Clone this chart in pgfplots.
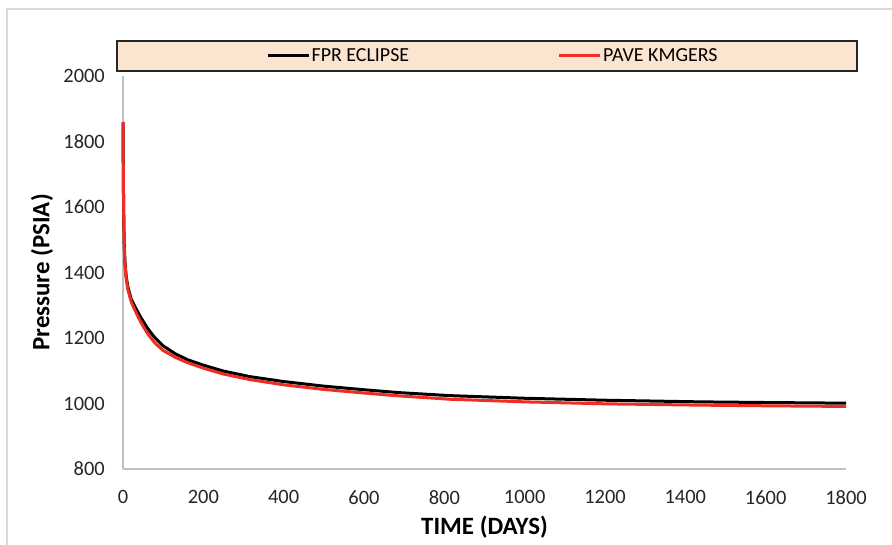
\documentclass[border=0pt]{standalone}
\usepackage{fontspec}
\setmainfont{Carlito}
\usepackage{pgfplots}
\pgfplotsset{compat=1.18}
\usepackage{pgfplotstable}

\definecolor{kmred}{RGB}{240,45,35}
\definecolor{legfill}{RGB}{252,229,208}
\definecolor{axgray}{RGB}{191,191,191}
\definecolor{framegray}{RGB}{217,217,217}

% Field average pressure, ECLIPSE simulator
\pgfplotstableread{
t P
0 1858
0.5 1760
1 1670
2 1560
3 1490
5 1430
8 1388
12 1357
20 1320
30 1295
45 1261
62 1228
80 1200
100 1176
130 1152
160 1134
200 1117
250 1099
316 1082
400 1067
500 1053
600 1042
690 1033
814 1024
1000 1016
1200 1010
1436 1005
1600 1003
1800 1001
}\eclipse

% Average pressure, KMGERS model
\pgfplotstableread{
t P
0 1860
0.5 1755
1 1665
2 1550
3 1480
5 1420
8 1380
12 1349
20 1312
30 1284
45 1247
62 1212
80 1184
100 1162
130 1141
160 1125
200 1108
250 1090
316 1073
400 1057
500 1043
600 1032
690 1023
814 1013
1000 1005
1200 999
1436 995
1600 993
1800 991
}\kmgers

\begin{document}
\begin{tikzpicture}
\path[use as bounding box] (0bp,0bp) rectangle (892bp,545bp);
\fill[white] (0bp,0bp) rectangle (892bp,545bp);
\draw[framegray, line width=1.5bp] (7bp,0bp) -- (7bp,536bp) -- (892bp,536bp);
\draw[black!85, line width=1.5bp, fill=legfill] (117bp,474bp) rectangle (857bp,504bp);
\begin{axis}[
  at={(123bp,76bp)}, anchor=south west,
  scale only axis, width=723bp, height=393bp,
  xmin=0, xmax=1800, ymin=800, ymax=2000,
  xtick={0,200,...,1800}, ytick={800,1000,...,2000},
  axis x line*=bottom, axis y line*=left,
  axis line style={axgray, line width=1.5bp},
  major tick length=0pt,
  /pgf/number format/assume math mode=true,
  /pgf/number format/1000 sep={},
  ticklabel style={font=\fontsize{20.5}{24}\selectfont, text=black!85},
  xticklabel style={anchor=north, inner sep=0pt, yshift=-21.5bp},
  yticklabel style={anchor=east, inner sep=0pt, xshift=-18bp},
  xlabel={TIME (DAYS)},
  ylabel={Pressure (PSIA)},
  every axis x label/.style={at={(axis description cs:0.5,-0.1476)}, anchor=center,
    font=\fontsize{25}{30}\selectfont\bfseries},
  every axis y label/.style={at={(axis description cs:-0.112,0.5)}, anchor=center, rotate=90,
    font=\fontsize{25}{30}\selectfont\bfseries},
  legend columns=2,
  legend style={at={(axis description cs:0.1978,1.0509)}, anchor=west,
    draw=none, fill=none, inner sep=0pt,
    font=\fontsize{20}{24}\selectfont,
    nodes={inner sep=1.5bp},
    /tikz/every even column/.append style={column sep=147bp}},
  legend image code/.code={\draw[#1] (0bp,0bp) -- (41bp,0bp);},
  clip=false,
]
\addplot[black, line width=3bp, line join=round] table[x=t, y=P] {\eclipse};
\addlegendentry{FPR ECLIPSE}
\addplot[kmred, line width=3bp, line join=round] table[x=t, y=P] {\kmgers};
\addlegendentry{PAVE KMGERS}
\end{axis}
\end{tikzpicture}
\end{document}
